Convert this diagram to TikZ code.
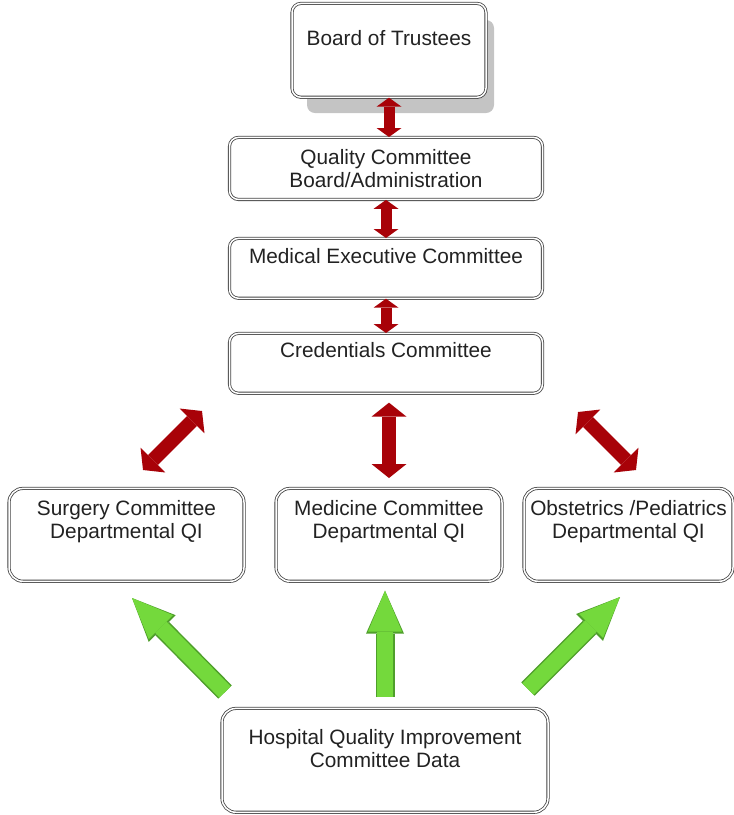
\documentclass[tikz,border=0pt]{standalone}
\usepackage{fontspec}
\setmainfont{Liberation Sans}
\usetikzlibrary{arrows.meta,calc}
\definecolor{linkred}{HTML}{A80208}
\definecolor{datagreen}{HTML}{74D93C}
\definecolor{dataedge}{HTML}{4F9F2B}
\definecolor{shadow}{HTML}{C4C4C4}
\definecolor{boxline}{HTML}{444444}
\definecolor{ink}{HTML}{222222}

\begin{document}
\begin{tikzpicture}[x=1pt, y=-1pt,
  box/.style={draw=boxline,double=white,double distance=1.5pt,line width=0.8pt,fill=white,rounded corners=9pt,
    anchor=north,align=center,inner xsep=4pt,text=ink,font=\fontsize{20.8}{23}\selectfont},
  redlink/.style={draw=linkred,line width=11pt,
    {Triangle[width=25pt,length=9pt,line width=0pt]}-{Triangle[width=25pt,length=9pt,line width=0pt]}},
  bigredlink/.style={draw=linkred,line width=14pt,
    {Triangle[width=35pt,length=14pt,line width=0pt]}-{Triangle[width=35pt,length=14pt,line width=0pt]}},
  datalink/.style={draw=datagreen,line width=16pt,-{Triangle[width=34pt,length=41pt,line width=0pt]},
    preaction={draw=dataedge,line width=19pt,-{Triangle[width=38pt,length=43pt,line width=0pt]}}},
]
  \useasboundingbox (0,0) rectangle (734,815);

  % top chain
  \fill[shadow,rounded corners=8pt] (307,20) rectangle (494,113);
  \node[box,minimum width=194pt,inner ysep=27.3pt,text depth=24.2pt] (board) at (389,3) {Board of Trustees};
  \node[box,minimum width=313pt,inner ysep=12pt,text depth=0pt] (quality) at (386,137) {Quality Committee\\Board/Administration};
  \node[box,minimum width=313pt,inner ysep=10.3pt,text depth=24.2pt] (mec) at (386,238) {Medical Executive Committee};
  \node[box,minimum width=313pt,inner ysep=9.3pt,text depth=26.2pt] (cred) at (386,333) {Credentials Committee};

  \draw[redlink] (board.south) -- (board.south |- quality.north);
  \draw[redlink] (quality.south) -- (mec.north);
  \draw[redlink] (mec.south) -- (cred.north);

  % departments
  \node[box,rounded corners=14pt,minimum width=235pt,inner ysep=12.3pt,text depth=30.2pt] (surg) at (126.5,488) {Surgery Committee\\Departmental QI};
  \node[box,rounded corners=14pt,minimum width=226pt,inner ysep=12.3pt,text depth=30.2pt] (med) at (389,488) {Medicine Committee\\Departmental QI};
  \node[box,rounded corners=14pt,minimum width=209pt,inner ysep=12.3pt,text depth=30.2pt] (obped) at (628.5,488) {Obstetrics /Pediatrics\\Departmental QI};

  \coordinate (sl1) at (202,411);
  \coordinate (sl2) at (143,470);
  \coordinate (sr1) at (578,412);
  \coordinate (sr2) at (636,470);
  \draw[bigredlink,shorten <=9pt,shorten >=10pt] (med.north |- cred.south) -- (med.north);
  \draw[bigredlink] (sl1) -- (sl2);
  \draw[bigredlink] (sr1) -- (sr2);

  % data source
  \node[box,rounded corners=14pt,minimum width=326pt,inner ysep=21.3pt,text depth=23.2pt] (hqi) at (385,708) {Hospital Quality Improvement\\Committee Data};

  \coordinate (gl1) at (225,692);
  \coordinate (gl2) at (132,598);
  \coordinate (gr1) at (528,689);
  \coordinate (gr2) at (620,597);
  \draw[datalink,shorten <=11pt,shorten >=9pt] (hqi.north) -- (hqi.north |- med.south);
  \draw[datalink] (gl1) -- (gl2);
  \draw[datalink] (gr1) -- (gr2);
\end{tikzpicture}
\end{document}
